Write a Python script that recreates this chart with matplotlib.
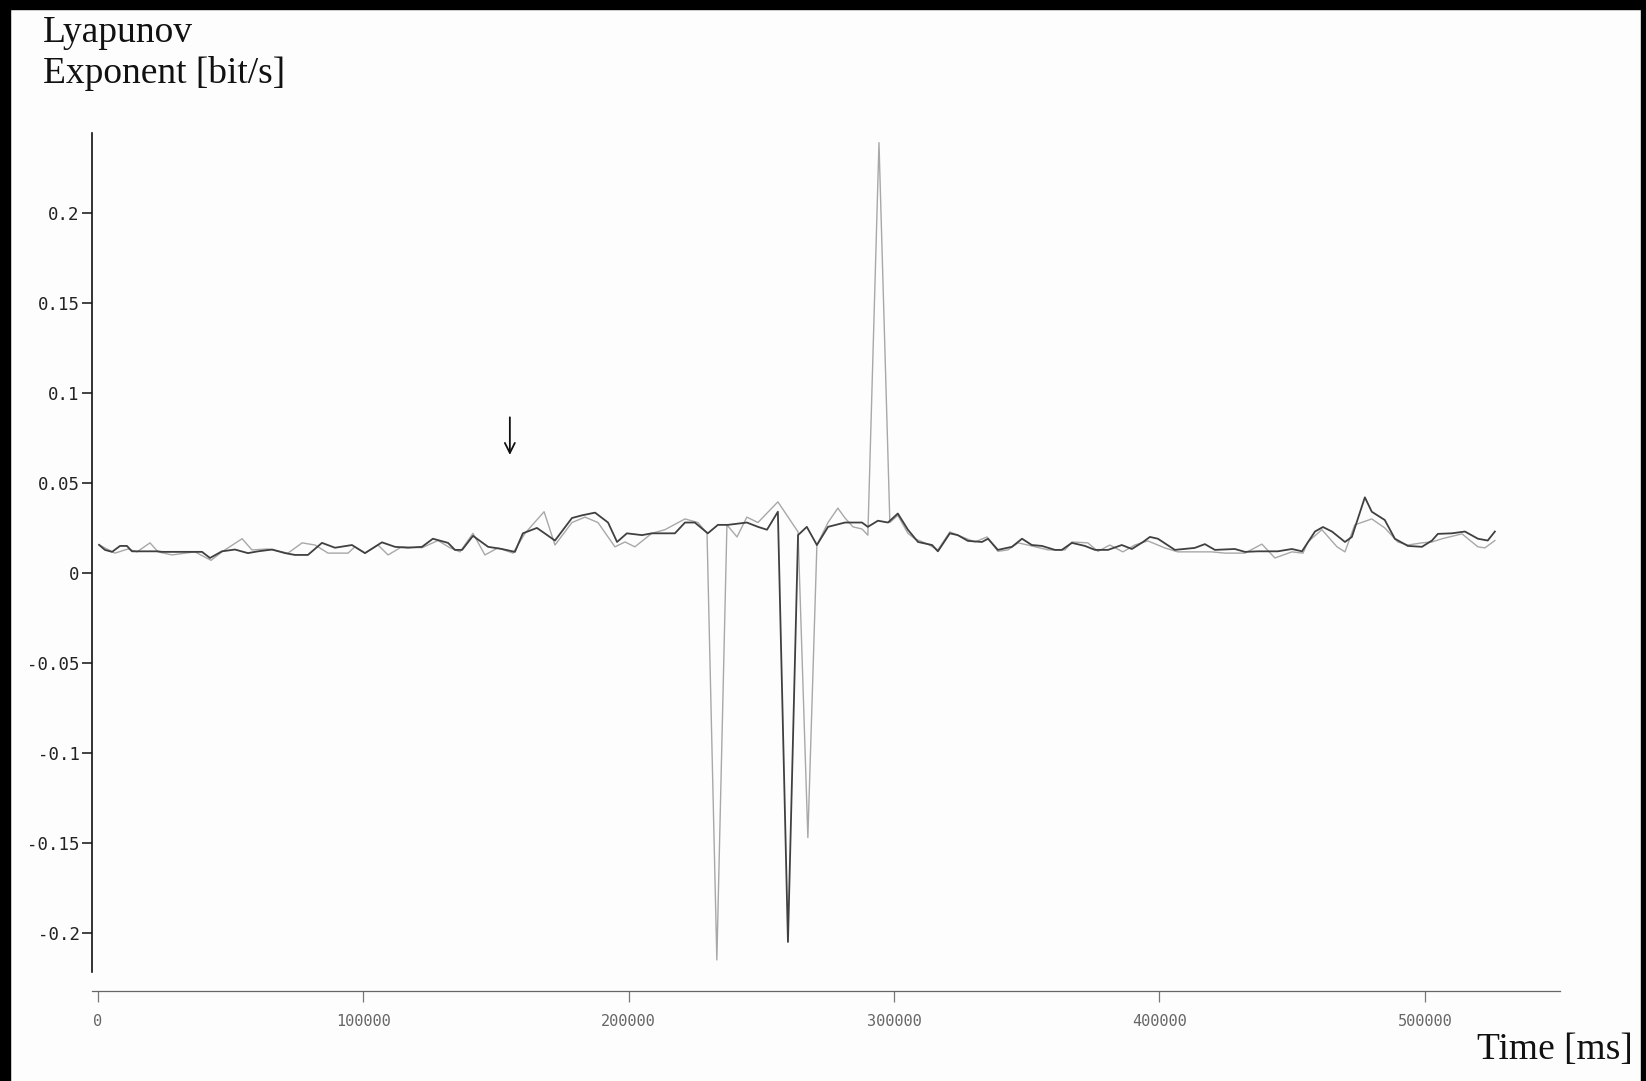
import matplotlib
matplotlib.use("Agg")
import matplotlib.pyplot as plt
from matplotlib.patches import Rectangle

# dark series (time in ms, exponent in bit/s)
t_dark = [400, 2600, 5300, 8300, 10900, 12800, 17700, 22600, 24100, 29000, 32800, 39200,
          42200, 46700, 51600, 56500, 60300, 65600, 70500, 74200, 79100, 84400, 89300,
          95700, 100600, 107000, 111900, 116800, 122100, 126200, 131900, 134500, 137200,
          141300, 147000, 152200, 157100, 160100, 165400, 172200, 178600, 182400, 187300,
          192200, 195600, 199300, 205000, 208700, 217400, 221200, 224900, 229800, 233600,
          237400, 244500, 248700, 252100, 256200, 260000, 263800, 267100, 270900, 275100,
          281500, 287900, 290100, 293900, 297700, 301400, 305200, 309000, 314300, 316500,
          321000, 324000, 327800, 333100, 335400, 339100, 344400, 348200, 351900, 355700,
          360600, 363200, 367000, 371900, 375700, 380600, 385800, 389600, 393800, 396400,
          399400, 405800, 413300, 417100, 420900, 428400, 432200, 437100, 444600, 449900,
          453700, 458600, 461600, 465000, 469900, 472500, 477400, 480000, 484900, 488700,
          493600, 498900, 502700, 504900, 510200, 515100, 520000, 523700, 526400]
v_dark = [0.0156, 0.0128, 0.0117, 0.015, 0.015, 0.012, 0.012, 0.012, 0.0117, 0.0117, 0.0117,
          0.0117, 0.0083, 0.012, 0.013, 0.011, 0.012, 0.013, 0.011, 0.010, 0.010, 0.0167,
          0.014, 0.0155, 0.011, 0.017, 0.0145, 0.014, 0.0145, 0.019, 0.0167, 0.0128, 0.0128,
          0.0206, 0.0145, 0.0133, 0.0117, 0.022, 0.025, 0.018, 0.0305, 0.032, 0.0335, 0.028,
          0.0172, 0.022, 0.021, 0.022, 0.022, 0.028, 0.028, 0.022, 0.0267, 0.0267, 0.028,
          0.0256, 0.024, 0.034, -0.205, 0.021, 0.0256, 0.0155, 0.0256, 0.028, 0.028, 0.0256,
          0.029, 0.028, 0.033, 0.024, 0.0172, 0.0155, 0.012, 0.022, 0.021, 0.0178, 0.0172,
          0.019, 0.0128, 0.0145, 0.019, 0.0155, 0.015, 0.0128, 0.0128, 0.0167, 0.015, 0.0128,
          0.0128, 0.0155, 0.0133, 0.0172, 0.020, 0.019, 0.0128, 0.0139, 0.016, 0.0128, 0.0133,
          0.0117, 0.012, 0.012, 0.0133, 0.012, 0.023, 0.0255, 0.023, 0.0172, 0.020, 0.042,
          0.034, 0.0294, 0.019, 0.015, 0.0145, 0.018, 0.0217, 0.022, 0.023, 0.019, 0.018, 0.023]

# light series
t_light = [400, 6400, 11300, 14700, 19600, 22600, 27900, 36500, 42600, 46700, 54300, 58000,
           64100, 71600, 76900, 81800, 86700, 94200, 96800, 100600, 105500, 109300, 114500,
           122100, 128100, 132600, 136400, 141300, 145800, 150700, 156400, 160900, 168100,
           172200, 178600, 183500, 188400, 194800, 198600, 202300, 208700, 213600, 221200,
           226100, 229500, 233200, 237000, 240800, 244500, 248700, 256200, 263800, 267500,
           270900, 275100, 278800, 281500, 284500, 287900, 290100, 294300, 298400, 301400,
           305200, 307800, 312700, 316500, 321000, 325600, 330500, 335000, 339100, 342900,
           346700, 350400, 358000, 364400, 367000, 373000, 376800, 381300, 386200, 390700,
           395600, 402000, 406900, 413300, 419700, 424700, 432200, 438600, 443500, 449900,
           454100, 455900, 461200, 466900, 469900, 473600, 480000, 484900, 489800, 493600,
           498900, 502700, 506500, 514000, 520000, 522600, 526400]
v_light = [0.0156, 0.011, 0.0133, 0.0117, 0.0167, 0.0117, 0.010, 0.0117, 0.007, 0.0117, 0.019,
           0.0128, 0.0133, 0.011, 0.0167, 0.0155, 0.011, 0.011, 0.0145, 0.011, 0.0155, 0.010,
           0.0145, 0.014, 0.018, 0.014, 0.0117, 0.022, 0.010, 0.0139, 0.011, 0.022, 0.034,
           0.0155, 0.028, 0.031, 0.028, 0.0145, 0.0172, 0.0145, 0.022, 0.024, 0.030, 0.028,
           0.022, -0.215, 0.0267, 0.020, 0.031, 0.028, 0.0395, 0.0228, -0.147, 0.0155, 0.028,
           0.036, 0.0305, 0.0256, 0.0244, 0.021, 0.239, 0.028, 0.032, 0.022, 0.019, 0.016,
           0.0128, 0.0228, 0.020, 0.0172, 0.020, 0.012, 0.0128, 0.0167, 0.0155, 0.0128, 0.0128,
           0.0172, 0.0167, 0.012, 0.0155, 0.0117, 0.0155, 0.0178, 0.0139, 0.0117, 0.0117,
           0.0117, 0.011, 0.011, 0.016, 0.0083, 0.0117, 0.011, 0.0172, 0.024, 0.0145, 0.0117,
           0.0267, 0.030, 0.025, 0.0172, 0.0155, 0.0167, 0.0172, 0.019, 0.0217, 0.0145, 0.0139,
           0.018]

y_ticks = [0.2, 0.15, 0.1, 0.05, 0, -0.05, -0.1, -0.15, -0.2]
y_labels = ["0.2", "0.15", "0.1", "0.05", "0", "-0.05", "-0.1", "-0.15", "-0.2"]
x_ticks = [0, 100000, 200000, 300000, 400000, 500000]
x_labels = ["0", "100000", "200000", "300000", "400000", "500000"]
arrow_t = 155200

fig = plt.figure(figsize=(16.46, 10.81), dpi=100, facecolor="#fdfdfd")
ax = fig.add_axes([0.0559, 0.1008, 0.8918, 0.7762])
ax.set_facecolor("#fdfdfd")

ax.plot(t_light, v_light, color="#a8a8a8", lw=1.0)
ax.plot(t_dark, v_dark, color="#404040", lw=1.3)

ax.set_xlim(-2260, 550900)
ax.set_ylim(-0.2217, 0.2444)

for s in ["top", "right"]:
    ax.spines[s].set_visible(False)
ax.spines["left"].set_linewidth(1.2)
ax.spines["left"].set_color("#111111")
ax.spines["bottom"].set_position(("outward", 13.5))
ax.spines["bottom"].set_linewidth(0.9)
ax.spines["bottom"].set_color("#666666")

ax.set_yticks(y_ticks)
ax.set_yticklabels(y_labels, family="DejaVu Sans Mono", fontsize=12.5, color="#222222")
ax.tick_params(axis="y", direction="out", length=7, width=1.1, pad=2, color="#111111")
ax.set_xticks(x_ticks)
ax.set_xticklabels(x_labels, family="DejaVu Sans Mono", fontsize=11, color="#666666")
ax.tick_params(axis="x", direction="out", length=8, width=0.9, pad=9, color="#777777")

# arrow marking the event
ax.annotate("", xy=(arrow_t, 0.064), xytext=(arrow_t, 0.088),
            arrowprops=dict(arrowstyle="->", color="#111111", lw=1.3, mutation_scale=18))

fig.text(0.026, 0.986, "Lyapunov\nExponent [bit/s]", family="Liberation Serif",
         fontsize=27, va="top", ha="left", linespacing=1.22, color="#111111")
fig.text(0.992, 0.013, "Time [ms]", family="Liberation Serif", fontsize=27,
         va="bottom", ha="right", color="#111111")

# black scan borders
fig.patches.append(Rectangle((0, 0), 0.0061, 1, transform=fig.transFigure, color="black"))
fig.patches.append(Rectangle((0, 0.992), 1, 0.008, transform=fig.transFigure, color="black"))
fig.patches.append(Rectangle((0.9968, 0), 0.0032, 1, transform=fig.transFigure, color="black"))

fig.savefig("out.png", dpi=100, facecolor=fig.get_facecolor())
